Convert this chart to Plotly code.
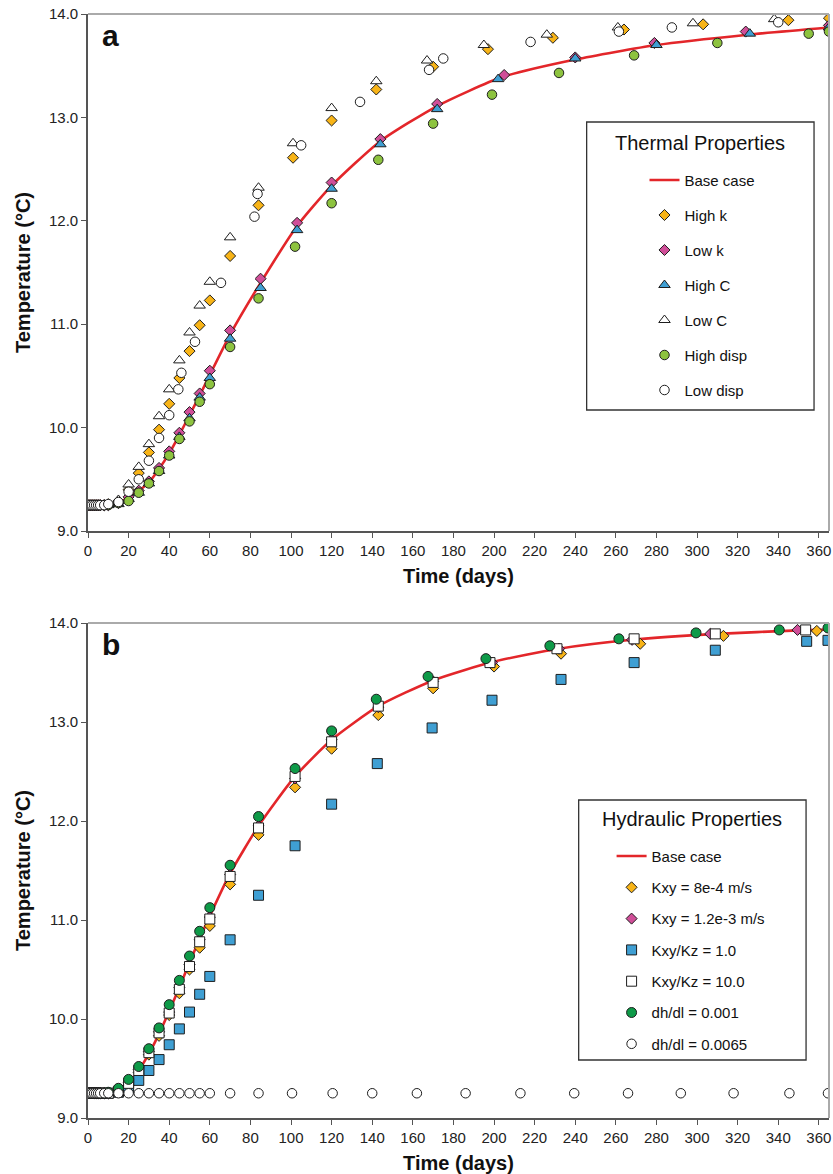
import plotly.graph_objects as go

FONT = "Liberation Sans, Arial, Helvetica, sans-serif"
RED = "#E3262A"
ORANGE = "#F8B417"
PINK = "#D04E98"
BLUE = "#3F9FD3"
LGREEN = "#8DC33F"
DGREEN = "#0E9A48"
WHITE = "#FFFFFF"
EDGE = "#1E1E1E"

# ---------------- (a) thermal properties ----------------
t_base_a = [0, 5, 10, 15, 20, 25, 30, 35, 40, 45, 50, 55, 60, 70, 85, 103, 120, 144, 172, 204, 240, 280, 325, 365]
T_base_a = [9.25, 9.25, 9.25, 9.27, 9.33, 9.39, 9.47, 9.60, 9.75, 9.93, 10.12, 10.31, 10.51, 10.90, 11.40, 11.95, 12.34, 12.77, 13.11, 13.39, 13.56, 13.70, 13.80, 13.87]

t_highk = [0, 1, 2, 3, 4, 5, 6, 8, 10, 15, 20, 25, 30, 35, 40, 45, 50, 55, 60, 70, 84, 101, 120, 142, 170, 197, 229, 264, 303, 345, 365]
T_highk = [9.25, 9.25, 9.25, 9.25, 9.25, 9.25, 9.25, 9.25, 9.26, 9.29, 9.40, 9.56, 9.76, 9.98, 10.23, 10.48, 10.74, 10.99, 11.23, 11.66, 12.15, 12.61, 12.97, 13.27, 13.49, 13.66, 13.77, 13.85, 13.90, 13.94, 13.96]

t_lowk = [0, 1, 2, 3, 4, 5, 6, 8, 10, 15, 20, 25, 30, 35, 40, 45, 50, 55, 60, 70, 85, 103, 120, 144, 172, 205, 240, 279, 324, 365]
T_lowk = [9.25, 9.25, 9.25, 9.25, 9.25, 9.25, 9.25, 9.25, 9.25, 9.27, 9.33, 9.39, 9.48, 9.61, 9.77, 9.95, 10.15, 10.33, 10.55, 10.94, 11.44, 11.98, 12.37, 12.79, 13.13, 13.41, 13.58, 13.72, 13.83, 13.89]

t_highC = [0, 1, 2, 3, 4, 5, 6, 8, 10, 15, 20, 25, 30, 35, 40, 45, 50, 55, 60, 70, 85, 103, 120, 144, 172, 202, 240, 280, 326, 365]
T_highC = [9.25, 9.25, 9.25, 9.25, 9.25, 9.25, 9.25, 9.25, 9.25, 9.26, 9.31, 9.37, 9.46, 9.58, 9.73, 9.91, 10.09, 10.29, 10.48, 10.86, 11.35, 11.91, 12.31, 12.74, 13.08, 13.37, 13.57, 13.70, 13.81, 13.87]

t_lowC = [0, 1, 2, 3, 4, 5, 6, 8, 10, 15, 20, 25, 30, 35, 40, 45, 50, 55, 60, 70, 84, 101, 120, 142, 167, 195, 226, 261, 298, 338]
T_lowC = [9.25, 9.25, 9.25, 9.25, 9.25, 9.25, 9.25, 9.25, 9.26, 9.30, 9.45, 9.62, 9.84, 10.11, 10.37, 10.65, 10.92, 11.18, 11.41, 11.84, 12.32, 12.75, 13.09, 13.35, 13.55, 13.70, 13.80, 13.87, 13.91, 13.95]

t_highdisp = [0, 1, 2, 3, 4, 5, 6, 8, 10, 15, 20, 25, 30, 35, 40, 45, 50, 55, 60, 70, 84, 102, 120, 143, 170, 199, 232, 269, 310, 355, 365]
T_highdisp = [9.25, 9.25, 9.25, 9.25, 9.25, 9.25, 9.25, 9.25, 9.25, 9.27, 9.29, 9.37, 9.46, 9.58, 9.73, 9.89, 10.06, 10.25, 10.42, 10.78, 11.25, 11.75, 12.17, 12.59, 12.94, 13.22, 13.43, 13.60, 13.72, 13.81, 13.83]

t_lowdisp = [0, 1, 2, 3, 4, 5, 6, 8, 10, 15, 20, 25, 30, 35, 40, 44.5, 46, 52.7, 65.5, 82, 83.5, 105, 134, 168, 175, 218, 261.5, 287.6, 340]
T_lowdisp = [9.25, 9.25, 9.25, 9.25, 9.25, 9.25, 9.25, 9.25, 9.26, 9.28, 9.38, 9.50, 9.68, 9.90, 10.12, 10.37, 10.53, 10.83, 11.40, 12.04, 12.26, 12.73, 13.15, 13.46, 13.57, 13.73, 13.83, 13.87, 13.92]

# ---------------- (b) hydraulic properties ----------------
t_base_b = [0, 5, 10, 15, 20, 25, 30, 35, 40, 45, 50, 55, 60, 70, 84, 102, 120, 143, 170, 200, 232, 268, 310, 350, 365]
T_base_b = [9.25, 9.25, 9.25, 9.28, 9.35, 9.48, 9.65, 9.85, 10.08, 10.32, 10.57, 10.81, 11.04, 11.47, 11.95, 12.45, 12.82, 13.16, 13.42, 13.61, 13.74, 13.83, 13.89, 13.925, 13.935]

t_k8 = [0, 1, 2, 3, 4, 5, 6, 8, 10, 15, 20, 25, 30, 35, 40, 45, 50, 55, 60, 70, 84, 102, 120, 143, 170, 200, 233, 272, 313, 359]
T_k8 = [9.25, 9.25, 9.25, 9.25, 9.25, 9.25, 9.25, 9.25, 9.25, 9.27, 9.33, 9.46, 9.64, 9.83, 10.04, 10.26, 10.50, 10.72, 10.94, 11.36, 11.86, 12.34, 12.73, 13.07, 13.34, 13.56, 13.69, 13.79, 13.87, 13.92]

t_k12 = [0, 1, 2, 3, 4, 5, 6, 8, 10, 15, 20, 25, 30, 35, 40, 45, 50, 55, 60, 70, 84, 102, 120, 143, 170, 199, 232, 268, 306.5, 349.5]
T_k12 = [9.25, 9.25, 9.25, 9.25, 9.25, 9.25, 9.25, 9.25, 9.25, 9.28, 9.36, 9.49, 9.67, 9.87, 10.07, 10.32, 10.55, 10.80, 11.03, 11.46, 11.95, 12.43, 12.82, 13.15, 13.41, 13.60, 13.74, 13.83, 13.89, 13.93]

t_r1 = [0, 1, 2, 3, 4, 5, 6, 8, 10, 15, 20, 25, 30, 35, 40, 45, 50, 55, 60, 70, 84, 102, 120, 142.5, 169.5, 199, 233, 269, 309, 354, 364.5]
T_r1 = [9.25, 9.25, 9.25, 9.25, 9.25, 9.25, 9.25, 9.25, 9.25, 9.26, 9.30, 9.38, 9.48, 9.59, 9.74, 9.90, 10.07, 10.25, 10.43, 10.80, 11.25, 11.75, 12.17, 12.58, 12.94, 13.22, 13.43, 13.60, 13.725, 13.815, 13.825]

t_r10 = [0, 1, 2, 3, 4, 5, 6, 8, 10, 15, 20, 25, 30, 35, 40, 45, 50, 55, 60, 70, 84, 102, 120, 143, 170, 198, 231, 269, 309, 353.5]
T_r10 = [9.25, 9.25, 9.25, 9.25, 9.25, 9.25, 9.25, 9.25, 9.25, 9.27, 9.35, 9.48, 9.66, 9.86, 10.06, 10.30, 10.53, 10.78, 11.01, 11.44, 11.93, 12.45, 12.80, 13.16, 13.40, 13.60, 13.74, 13.84, 13.89, 13.93]

t_g1 = [0, 1, 2, 3, 4, 5, 6, 8, 10, 15, 20, 25, 30, 35, 40, 45, 50, 55, 60, 70, 84, 102, 120, 142, 167.5, 196, 227.5, 261.5, 299.5, 340.5, 364.5]
T_g1 = [9.25, 9.25, 9.25, 9.25, 9.25, 9.25, 9.25, 9.25, 9.26, 9.30, 9.39, 9.52, 9.70, 9.91, 10.145, 10.39, 10.636, 10.886, 11.125, 11.553, 12.045, 12.53, 12.91, 13.23, 13.46, 13.64, 13.77, 13.84, 13.90, 13.93, 13.95]

t_g65 = [0, 1, 2, 3, 4, 5, 6, 8, 10, 15, 20, 25, 30, 35, 40, 45, 50, 55, 60, 70, 84, 100.5, 120.5, 140, 162, 186, 213, 239.5, 266, 292, 318, 345.5, 364.5]
T_g65 = [9.25] * len(t_g65)

fig = go.Figure()


def line(x, y, name, xa, ya, lg):
    fig.add_trace(go.Scatter(
        x=x, y=y, mode="lines", name=name, legendgroup=lg + name, legend=lg,
        xaxis=xa, yaxis=ya, line=dict(color=RED, width=2.6, shape="spline", smoothing=0.6)))


def pts(x, y, name, symbol, fill, size, xa, ya, lg):
    fig.add_trace(go.Scatter(
        x=x, y=y, mode="markers", name=name, legendgroup=lg + name, legend=lg,
        xaxis=xa, yaxis=ya,
        marker=dict(symbol=symbol, color=fill, size=size, line=dict(color=EDGE, width=1))))


line(t_base_a, T_base_a, "Base case", "x", "y", "legend")
pts(t_highk, T_highk, "High k", "diamond", ORANGE, 8.5, "x", "y", "legend")
pts(t_lowk, T_lowk, "Low k", "diamond", PINK, 8.5, "x", "y", "legend")
pts(t_highC, T_highC, "High C", "triangle-up", BLUE, 10, "x", "y", "legend")
pts(t_lowC, T_lowC, "Low C", "triangle-up", WHITE, 10, "x", "y", "legend")
pts(t_highdisp, T_highdisp, "High disp", "circle", LGREEN, 9.5, "x", "y", "legend")
pts(t_lowdisp, T_lowdisp, "Low disp", "circle", WHITE, 9.5, "x", "y", "legend")

line(t_base_b, T_base_b, "Base case", "x2", "y2", "legend2")
pts(t_k8, T_k8, "Kxy = 8e-4 m/s", "diamond", ORANGE, 8.5, "x2", "y2", "legend2")
pts(t_k12, T_k12, "Kxy = 1.2e-3 m/s", "diamond", PINK, 8.5, "x2", "y2", "legend2")
pts(t_r1, T_r1, "Kxy/Kz = 1.0", "square", BLUE, 10, "x2", "y2", "legend2")
pts(t_r10, T_r10, "Kxy/Kz = 10.0", "square", WHITE, 10, "x2", "y2", "legend2")
pts(t_g1, T_g1, "dh/dl = 0.001", "circle", DGREEN, 10, "x2", "y2", "legend2")
pts(t_g65, T_g65, "dh/dl = 0.0065", "circle", WHITE, 9.5, "x2", "y2", "legend2")

# page geometry (px) of the plotting area
L, R, T, B = 88, 831, 14, 1118
PW, PH = R - L, B - T


def fx(px):
    return (px - L) / PW


def fy(py):
    return (B - py) / PH


axis_common = dict(
    showgrid=False, zeroline=False, showline=True, linecolor="#555555", linewidth=1.6,
    ticks="outside", ticklen=5, tickwidth=1.2, tickcolor="#555555",
    tickfont=dict(family=FONT, size=15, color="#222222"),
    ticklabeloverflow="allow",
)
xcommon = dict(axis_common, range=[0, 365], tick0=0, dtick=20,
               title=dict(text="<b>Time (days)</b>", font=dict(family=FONT, size=20, color="#111111"), standoff=11))
ycommon = dict(axis_common, range=[9, 14], tick0=9, dtick=1, tickformat=".1f",
               title=dict(text="<b>Temperature (°C)</b>", font=dict(family=FONT, size=20, color="#111111"), standoff=13))

legend_common = dict(
    bgcolor="rgba(0,0,0,0)", borderwidth=0, traceorder="grouped",
    font=dict(family=FONT, size=15, color="#111111"), xanchor="left", yanchor="top",
)

shapes = []
annotations = []
for xa, ya in (("x", "y"), ("x2", "y2")):
    # light frame on the top and right edges
    shapes.append(dict(type="line", xref=xa + " domain", yref=ya + " domain", x0=0, x1=1, y0=1, y1=1,
                       line=dict(color="#AAAAAA", width=2)))
    shapes.append(dict(type="line", xref=xa + " domain", yref=ya + " domain", x0=1, x1=1, y0=0, y1=1,
                       line=dict(color="#AAAAAA", width=2)))

# legend frames and titles
for (x0, x1, y0, y1, title, ty) in ((588, 816, 122, 410, "Thermal Properties", 143),
                                    (580, 808, 800, 1060, "Hydraulic Properties", 819)):
    shapes.append(dict(type="rect", xref="paper", yref="paper", x0=fx(x0), x1=fx(x1), y0=fy(y1), y1=fy(y0),
                       line=dict(color="#333333", width=1.3), fillcolor="rgba(0,0,0,0)"))
    annotations.append(dict(text=title, xref="paper", yref="paper", x=fx((x0 + x1) / 2), y=fy(ty),
                            xanchor="center", yanchor="middle", showarrow=False,
                            font=dict(family=FONT, size=20, color="#111111")))

# panel letters
for letter, py in (("a", 35), ("b", 645)):
    annotations.append(dict(text="<b>%s</b>" % letter, xref="paper", yref="paper", x=fx(111), y=fy(py),
                            xanchor="center", yanchor="middle", showarrow=False,
                            font=dict(family=FONT, size=30, color="#111111")))

fig.update_layout(
    width=833, height=1174, autosize=False,
    margin=dict(l=L, r=833 - R, t=T, b=1174 - B),
    paper_bgcolor="white", plot_bgcolor="white",
    xaxis=dict(xcommon, domain=[0, 1], anchor="y"),
    yaxis=dict(ycommon, domain=[fy(531), 1], anchor="x"),
    xaxis2=dict(xcommon, domain=[0, 1], anchor="y2"),
    yaxis2=dict(ycommon, domain=[0, fy(623)], anchor="x2"),
    legend=dict(legend_common, x=fx(646), y=fy(163.75), tracegroupgap=12.5),
    legend2=dict(legend_common, x=fx(613), y=fy(839.75), tracegroupgap=8.8),
    shapes=shapes, annotations=annotations,
    font=dict(family=FONT),
)

fig.write_html("out.html")
